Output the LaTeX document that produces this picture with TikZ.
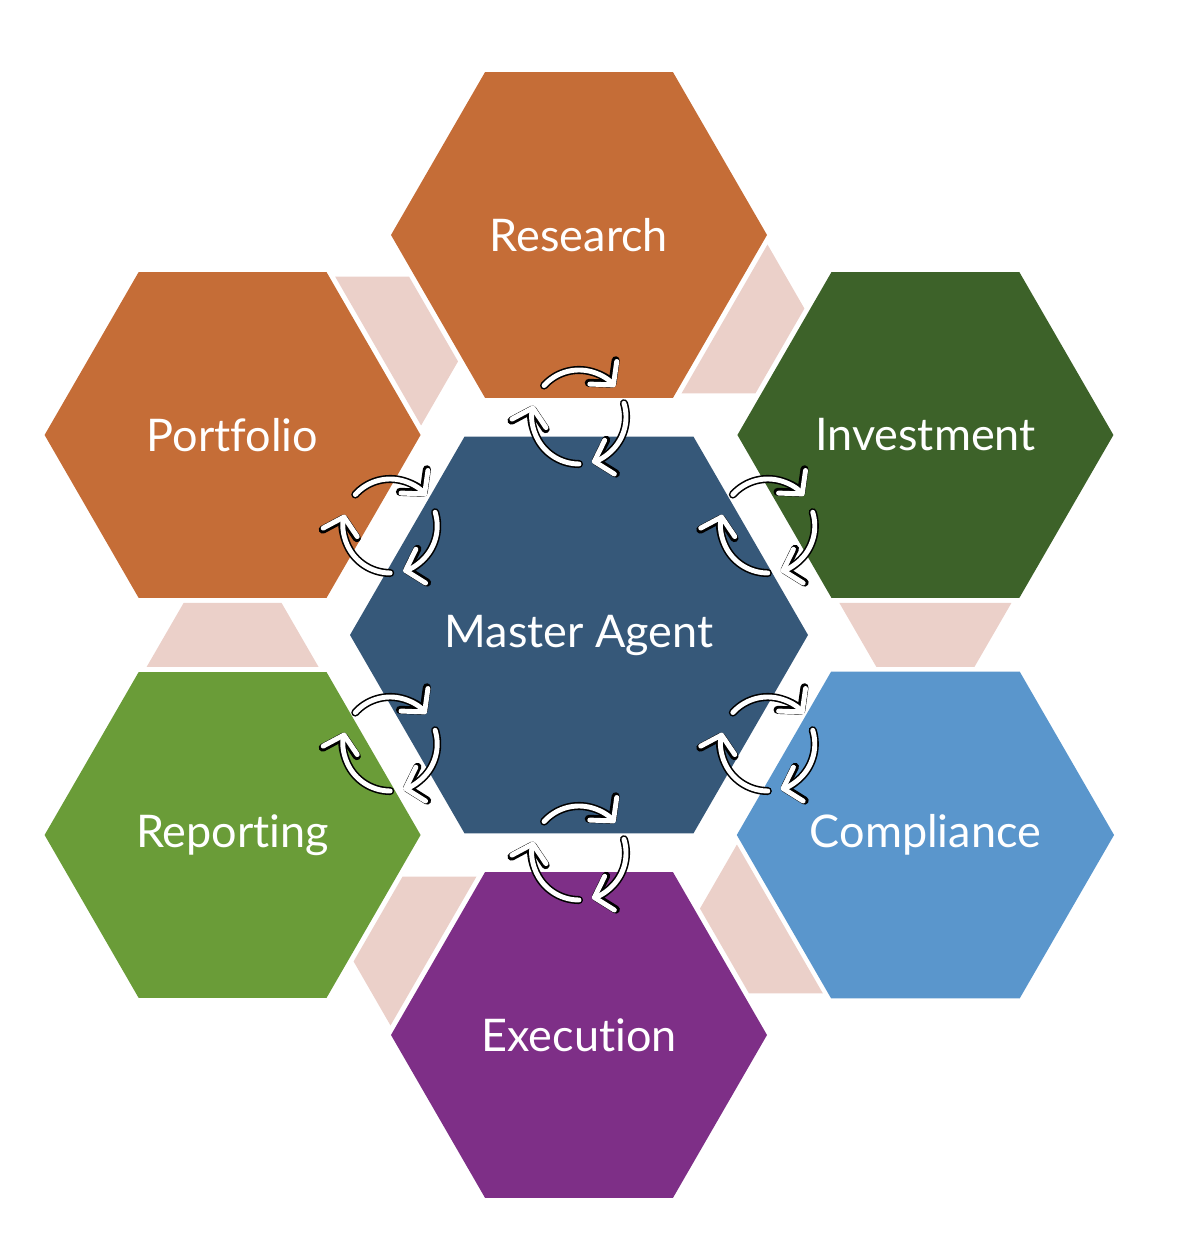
\documentclass[tikz,border=0pt]{standalone}
\usepackage{fontspec}
\setmainfont{Lato}[Ligatures={NoCommon}]
\usepackage{tikz}
\usetikzlibrary{shapes.geometric}
\usetikzlibrary{arrows.meta}
\definecolor{hexorange}{HTML}{C56D37}
\definecolor{hexdarkgreen}{HTML}{3D6229}
\definecolor{hexblue}{HTML}{5A96CC}
\definecolor{hexpurple}{HTML}{7E2F87}
\definecolor{hexgreen}{HTML}{6A9C38}
\definecolor{hexmaster}{HTML}{365879}
\definecolor{gappink}{HTML}{EBD0C9}
\tikzset{%
  every hex/.style={
    regular polygon,
    regular polygon sides=6,
    inner sep=0pt,
    text=white,
    font=\fontsize{12.8}{15}\selectfont
  },
  outer hex/.style={every hex, minimum size=3.76cm},
  master hex/.style={every hex, minimum size=4.58cm},
  gap band/.style={fill=gappink},
  sync line/.style={
    white,
    line width=1.4pt,
    line cap=round,
    line join=round,
    -{Straight Barb[length=4.5pt,width=10pt,round]},
    preaction={draw=black, line width=2.3pt, line cap=round, line join=round,
      -{Straight Barb[length=4.5pt,width=10pt,round]}}
  },
}

\begin{document}
\begin{tikzpicture}
\useasboundingbox (-5.79,-6.07) rectangle (6.09,6.35);
% light bands between neighbouring cells
\foreach \k in {0,...,5}
    \fill[gap band, rotate=-60*\k] (-3.954,0.32) -- (-2.974,0.32) -- (-2.604,-0.32) -- (-4.324,-0.32) -- cycle;

\node[master hex, fill=hexmaster] (master) at (0,0) {Master Agent};
\foreach \ang/\name/\col/\txt in {90/research/hexorange/Research,
                                 30/invest/hexdarkgreen/Investment,
                                 -30/comply/hexblue/Compliance,
                                 -90/execute/hexpurple/Execution,
                                 -150/report/hexgreen/Reporting,
                                 150/portfolio/hexorange/Portfolio}
    \node[outer hex, fill=\col] (\name) at (\ang:4) {\txt};

% cycle icons between master and each cell
\foreach \ang in {90,30,-30,-90,-150,150}
{
    \coordinate (sync) at (\ang:2.18);
    \draw[sync line] (sync) ++(138:0.47) arc[start angle=138, end angle=40, radius=0.47];
    \draw[sync line] (sync) ++(17:0.47) arc[start angle=17, end angle=-74, radius=0.47];
    \draw[sync line] (sync) ++(-90:0.47) arc[start angle=-90, end angle=-194, radius=0.47];
}
\end{tikzpicture}
\end{document}
